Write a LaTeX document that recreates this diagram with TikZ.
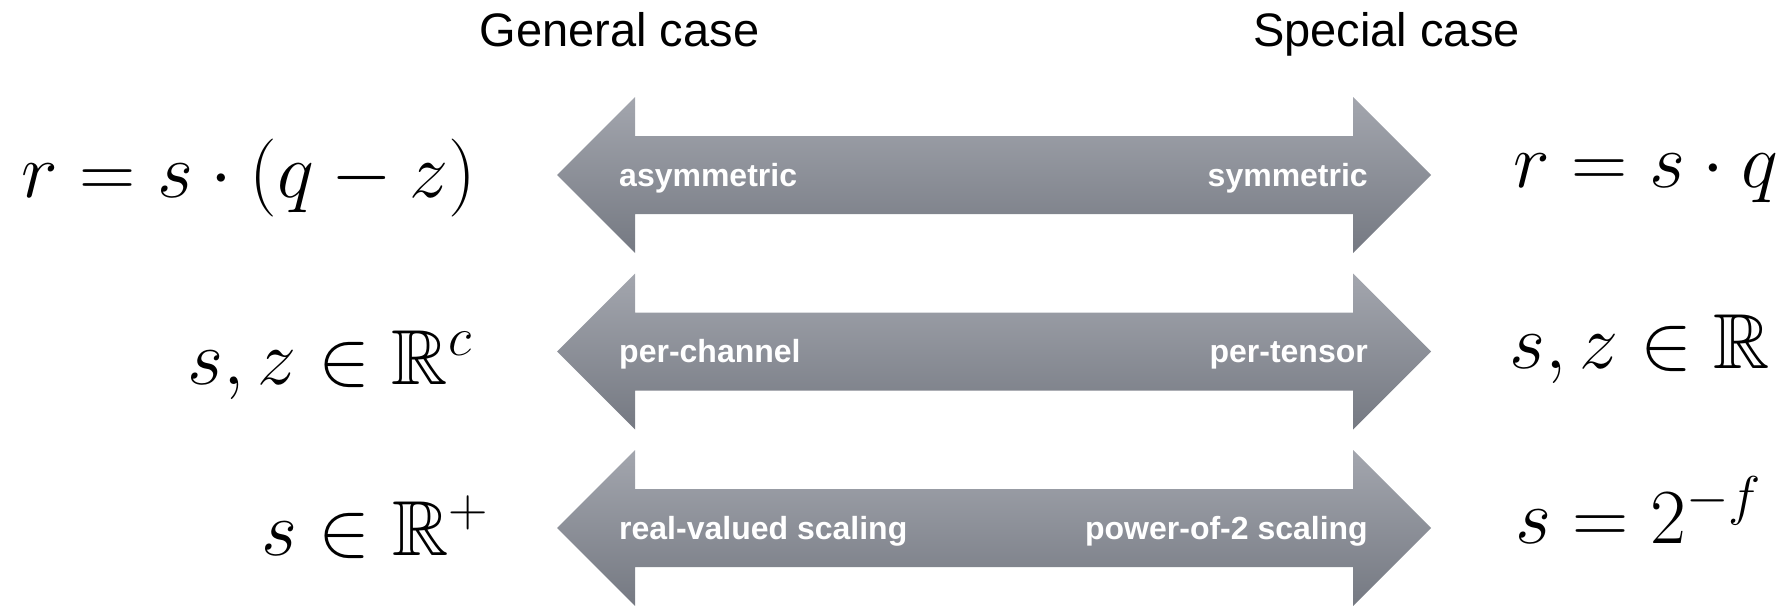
\documentclass[tikz,border=0pt]{standalone}
\usepackage{fix-cm}
\usepackage{amssymb}
\usepackage{fontspec}
\newfontfamily\labelfont{Liberation Sans}
% scalable blackboard bold at any size
\DeclareFontFamily{U}{msb}{}
\DeclareFontShape{U}{msb}{m}{n}{<-> msbm10}{}
\definecolor{arrowtop}{RGB}{163,166,174}
\definecolor{arrowbot}{RGB}{117,121,130}
\begin{document}
\begin{tikzpicture}[x=1pt,y=-1pt,
  dblarrow/.style={top color=arrowtop, bottom color=arrowbot, draw=none},
  tag/.style={font=\labelfont\bfseries\fontsize{32}{32}\selectfont, text=white, inner sep=0pt},
  heading/.style={font=\labelfont\fontsize{47}{47}\selectfont, inner sep=0pt, anchor=base},
  formula/.style={font=\fontsize{78}{78}\selectfont, inner sep=0pt, anchor=base west}]
\useasboundingbox (0,0) rectangle (1790,605);

% column headings
\node[heading] (general) at (619.5,46) {General case};
\node[heading] (special) at (1386.5,46) {Special case};

% double-headed arrows, one per row
\foreach \c in {175,351.5,528} {
  \path[dblarrow] (557,\c) -- (635,{\c-78}) -- (635,{\c-39}) -- (1353,{\c-39})
    -- (1353,{\c-78}) -- (1431,\c) -- (1353,{\c+78}) -- (1353,{\c+39})
    -- (635,{\c+39}) -- (635,{\c+78}) -- cycle;
}

% arrow labels
\node[tag, anchor=base west] (asym) at (619,186) {asymmetric};
\node[tag, anchor=base east] (sym) at (1368,186) {symmetric};
\node[tag, anchor=base west] (perch) at (619,362.5) {per-channel};
\node[tag, anchor=base east] (perten) at (1368,362.5) {per-tensor};
\node[tag, anchor=base west] (realsc) at (619,539) {real-valued scaling};
\node[tag, anchor=base east] (powsc) at (1368,539) {power-of-2 scaling};

% general-case formulas
\node[formula] (lhsA) at (21,197) {$r = s\cdot(q-z)$};
\node[formula] (lhsB) at (187,384) {$s, z \in \mathbb{R}^c$};
\node[formula] (lhsC) at (261,555) {$s \in \mathbb{R}^+$};

% special-case formulas
\node[formula] (rhsA) at (1513,187) {$r = s\cdot q$};
\node[formula] (rhsB) at (1509,368) {$s, z \in \mathbb{R}$};
\node[formula] (rhsC) at (1515,543) {$s = 2^{-f}$};
\end{tikzpicture}
\end{document}
